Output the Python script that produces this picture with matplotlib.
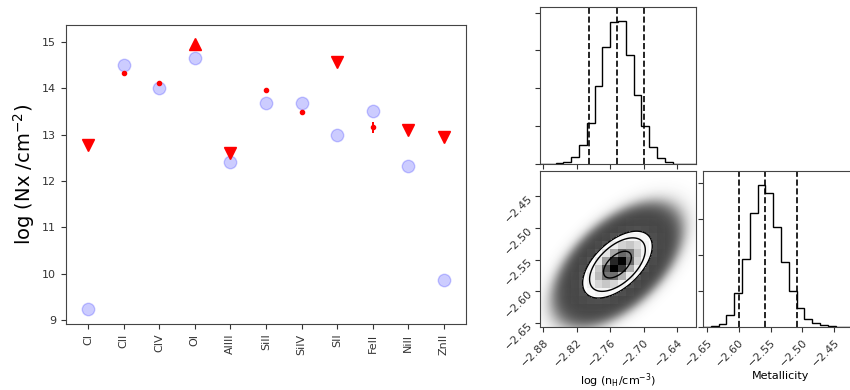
import numpy as np
import matplotlib
matplotlib.use("Agg")
import matplotlib.pyplot as plt
from matplotlib.colors import LinearSegmentedColormap

plt.rcParams["axes.edgecolor"] = "#444444"
plt.rcParams["xtick.color"] = "#333333"
plt.rcParams["ytick.color"] = "#333333"
plt.rcParams["text.color"] = "#222222"

# --- column densities per ion ---
ions = ["CI", "CII", "CIV", "OI", "AlIII", "SiII", "SiIV", "SII", "FeII", "NiII", "ZnII"]
model_logN = [9.23, 14.50, 14.00, 14.65, 12.40, 13.68, 13.68, 12.99, 13.52, 12.32, 9.86]

det_ions = ["CII", "CIV", "SiII", "SiIV", "FeII"]
det_logN = [14.34, 14.12, 13.97, 13.50, 13.16]
det_err = [0.0, 0.0, 0.0, 0.0, 0.12]

upper_ions = ["CI", "AlIII", "SII", "NiII", "ZnII"]
upper_logN = [12.77, 12.61, 14.56, 13.11, 12.95]

lower_ions = ["OI"]
lower_logN = [14.97]

# --- posterior: log nH and metallicity ---
nh_range = (-2.886, -2.606)
z_range = (-2.656, -2.411)
nh_counts = [0, 0, 20, 50, 180, 490, 1090, 2070, 3090, 3740,
             3770, 2870, 1820, 1000, 440, 160, 40, 10, 0, 0]
z_counts = [0, 20, 90, 340, 960, 1900, 3170, 3950, 3720, 2780,
            1800, 1010, 530, 230, 110, 50, 20, 10, 0, 0]
nh_quantiles = [-2.798, -2.748, -2.699]
z_quantiles = [-2.599, -2.558, -2.509]
nh_ticks = [-2.88, -2.82, -2.76, -2.70, -2.64]
z_ticks = [-2.65, -2.60, -2.55, -2.50, -2.45]
hist_ticks = [0, 1000, 2000, 3000, 4000]

# joint summary used for the 2d panel
nh_center, nh_sigma = -2.747, 0.050
z_center, z_sigma = -2.558, 0.042
rho_nh_z = 0.55
contour_radii = [0.5, 1.0, 1.25]
cloud_edge = 2.35


def mahalanobis(x, y):
    u = (x - nh_center) / nh_sigma
    v = (y - z_center) / z_sigma
    return np.sqrt((u * u + v * v - 2 * rho_nh_z * u * v) / (1 - rho_nh_z ** 2))


def minus(vals):
    return [f"{t:.2f}".replace("-", "\u2212") for t in vals]


fig = plt.figure(figsize=(8.5, 3.9), dpi=100)

# ---------------- column density panel ----------------
ax = fig.add_axes([0.0776, 0.1692, 0.4706, 0.7667])
pos = {ion: i for i, ion in enumerate(ions)}

ax.plot(range(len(ions)), model_logN, "o", color="blue", alpha=0.2, ms=9)
ax.errorbar([pos[i] for i in det_ions], det_logN, yerr=det_err, fmt="o",
            color="red", ms=3, elinewidth=1.4, capsize=0)
ax.plot([pos[i] for i in upper_ions], upper_logN, "v", color="red", ms=8)
ax.plot([pos[i] for i in lower_ions], lower_logN, "^", color="red", ms=8)

ax.set_xticks(range(len(ions)))
ax.set_xticklabels(ions, rotation=90, fontsize=8)
ax.set_yticks(range(9, 16))
ax.tick_params(axis="y", labelsize=8)
ax.set_xlim(-0.62, 10.62)
ax.set_ylim(8.91, 15.37)
ax.set_ylabel(r"log (Nx /cm$^{-2}$)", fontsize=14)

# ---------------- corner panels ----------------
ax_top = fig.add_axes([0.6353, 0.5795, 0.1835, 0.4026])
ax_2d = fig.add_axes([0.6353, 0.1615, 0.1835, 0.4000])
ax_right = fig.add_axes([0.8271, 0.1615, 0.1835, 0.4000])

nh_edges = np.linspace(nh_range[0], nh_range[1], len(nh_counts) + 1)
z_edges = np.linspace(z_range[0], z_range[1], len(z_counts) + 1)

for a, counts, edges, qs, rng, ticks in [
        (ax_top, nh_counts, nh_edges, nh_quantiles, nh_range, nh_ticks),
        (ax_right, z_counts, z_edges, z_quantiles, z_range, z_ticks)]:
    a.stairs(counts, edges, color="k", lw=1.0)
    for q in qs:
        a.axvline(q, color="k", ls="--", lw=1.2)
    a.set_xlim(*rng)
    a.set_ylim(0, 1.1 * max(counts))
    a.set_xticks(ticks)
    a.set_yticks(hist_ticks)
    a.set_yticklabels([])

ax_top.set_xticklabels([])
ax_right.set_xticklabels(minus(z_ticks), rotation=45, ha="right",
                         rotation_mode="anchor", fontsize=8)
ax_right.set_xlabel("Metallicity", fontsize=8)
ax_right.xaxis.set_label_coords(0.5, -0.285)

# sample cloud
gx = np.linspace(nh_range[0], nh_range[1], 300)
gy = np.linspace(z_range[0], z_range[1], 300)
GX, GY = np.meshgrid(gx, gy)
R = mahalanobis(GX, GY)
cloud = np.zeros(R.shape + (4,))
cloud[..., :3] = 0.22
cloud[..., 3] = 0.95 / (1 + np.exp((R - cloud_edge) / 0.17))
ax_2d.imshow(cloud, origin="lower", aspect="auto", interpolation="bilinear",
             extent=[nh_range[0], nh_range[1], z_range[0], z_range[1]], zorder=1)

D = np.exp(-0.5 * R ** 2)
levels = sorted(np.exp(-0.5 * np.array(contour_radii) ** 2))
ax_2d.contourf(GX, GY, D, [levels[0], 1.01], colors=["white"], zorder=2)

# binned density shading, black at the peak fading to transparent
cx = 0.5 * (nh_edges[:-1] + nh_edges[1:])
cy = 0.5 * (z_edges[:-1] + z_edges[1:])
CX, CY = np.meshgrid(cx, cy)
H = np.exp(-0.5 * mahalanobis(CX, CY) ** 2) ** 3
H = H / H.max()
density_cmap = LinearSegmentedColormap.from_list(
    "density_cmap", [(0, 0, 0, 1), (1, 1, 1, 0)])
ax_2d.pcolormesh(nh_edges, z_edges, 1 - H, cmap=density_cmap,
                 vmin=0, vmax=1, zorder=3)
ax_2d.contour(GX, GY, D, levels, colors="k", linewidths=1.0, zorder=4)

ax_2d.set_xlim(*nh_range)
ax_2d.set_ylim(*z_range)
ax_2d.set_xticks(nh_ticks)
ax_2d.set_yticks(z_ticks)
ax_2d.set_xticklabels(minus(nh_ticks), rotation=45, ha="right",
                      rotation_mode="anchor", fontsize=8)
ax_2d.set_yticklabels(minus(z_ticks), rotation=45, ha="right",
                      rotation_mode="anchor", fontsize=8)
ax_2d.set_xlabel(r"log (n$_\mathrm{H}$/cm$^{-3}$)", fontsize=8)
ax_2d.xaxis.set_label_coords(0.5, -0.285)

fig.savefig("out.png", dpi=100)
